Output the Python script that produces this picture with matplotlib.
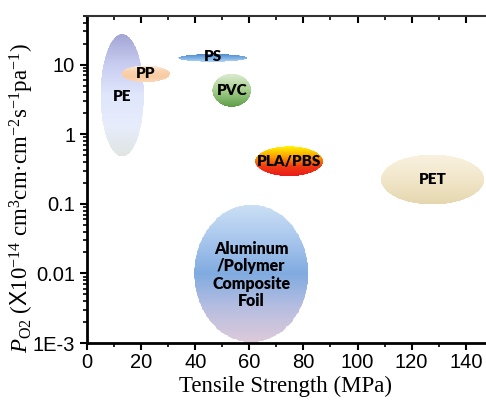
import numpy as np
import matplotlib
matplotlib.use("Agg")
import matplotlib.pyplot as plt
from matplotlib.patches import Polygon
from matplotlib.colors import LinearSegmentedColormap

plt.rcParams['mathtext.fontset'] = 'custom'
plt.rcParams['mathtext.rm'] = 'Liberation Serif'
plt.rcParams['mathtext.it'] = 'Liberation Serif:italic'
plt.rcParams['mathtext.bf'] = 'Liberation Serif:bold'
plt.rcParams['mathtext.sf'] = 'Liberation Sans'
plt.rcParams['font.family'] = ['Liberation Sans', 'DejaVu Sans']

# ---- data (tensile strength in MPa, O2 permeability) ----
materials = ["PE", "PP", "PS", "PVC", "PLA/PBS", "PET",
             "Aluminum\n/Polymer\nComposite\nFoil"]
x_center = [13.0, 21.7, 46.5, 53.5, 74.7, 127.7, 60.7]
x_width = [16.0, 17.9, 25.5, 14.3, 25.1, 38.2, 42.1]
p_low = [0.48, 5.6, 11.0, 2.48, 0.25, 0.098, 0.00103]
p_high = [27.5, 9.7, 14.2, 7.4, 0.67, 0.51, 0.097]
label_y = [3.5, 7.4, 13.0, 4.3, 0.40, 0.225, 0.0095]
label_size = [11, 11, 11, 11, 11, 11, 11.5]
grad_colors = [
    ["#a3a5d4", "#c8cdf0", "#e0e6fb", "#e6ecfb", "#dfe4e2"],
    ["#fde9da", "#f9d2ae", "#f8cba2", "#fad7b9"],
    ["#4f88cc", "#7aaee3", "#b0d2f2"],
    ["#dbead0", "#a6cf8e", "#5d9e47"],
    ["#fff200", "#ffa200", "#f03a10", "#ea1a1a"],
    ["#f8f1df", "#f1e6c9", "#e4d6ae"],
    ["#cadff5", "#a8c6ec", "#80abe0", "#b6bde0", "#dccad9"],
]

xticks = [0, 20, 40, 60, 80, 100, 120, 140]
yticks = [1e-3, 1e-2, 1e-1, 1, 10]
ytick_labels = ["1E-3", "0.01", "0.1", "1", "10"]

fig = plt.figure(figsize=(4.86, 4.01), dpi=100)
ax = fig.add_axes([0.179, 0.1446, 0.835, 0.8155])
ax.set_yscale('log')
ax.set_xlim(0, 150)
ax.set_ylim(1e-3, 50)

for i, name in enumerate(materials):
    cx, w = x_center[i], x_width[i]
    l0, l1 = np.log10(p_low[i]), np.log10(p_high[i])
    lc, lh = (l0 + l1) / 2, (l1 - l0) / 2
    t = np.linspace(0, 2 * np.pi, 300)
    px = cx + w / 2 * np.cos(t)
    py = 10 ** (lc + lh * np.sin(t))
    poly = Polygon(np.column_stack([px, py]), closed=True,
                   facecolor='none', edgecolor='none', zorder=2)
    ax.add_patch(poly)
    cmap = LinearSegmentedColormap.from_list(f"g{i}", grad_colors[i][::-1])
    n = 200
    Y = 10 ** np.linspace(l0, l1, n + 1)
    X = np.array([cx - w / 2, cx + w / 2])
    C = np.linspace(0, 1, n).reshape(n, 1)
    mesh = ax.pcolormesh(X, Y, C, cmap=cmap, vmin=0, vmax=1,
                         shading='flat', antialiased=False, zorder=2,
                         edgecolors='face', linewidth=0)
    mesh.set_clip_path(poly)
    ax.text(cx, label_y[i], name, ha='center', va='center',
            fontsize=label_size[i], fontweight='heavy',
            family='Lato', linespacing=1.1, zorder=3, color='black')

ax.set_xticks(xticks)
ax.set_xticks(np.arange(10, 150, 20), minor=True)
ax.set_yticks(yticks)
ax.set_yticklabels(ytick_labels)
ax.yaxis.set_minor_locator(matplotlib.ticker.LogLocator(base=10, subs=np.arange(2, 10), numticks=20))
ax.yaxis.set_minor_formatter(matplotlib.ticker.NullFormatter())

ax.tick_params(axis='both', which='major', labelsize=14.5, width=1.5, length=5)
ax.tick_params(axis='both', which='minor', width=1.2, length=3)
ax.tick_params(axis='x', which='both', top=True, direction='out')
ax.tick_params(axis='x', which='both', labeltop=False)
ax.tick_params(axis='y', which='both', direction='out', right=False)
ax.tick_params(axis='x', which='major', pad=2)

for s in ['left', 'bottom']:
    ax.spines[s].set_linewidth(2)
ax.spines['top'].set_linewidth(1.5)
ax.spines['top'].set_color('#333333')

# top ticks point inward
for tk in ax.xaxis.get_major_ticks() + ax.xaxis.get_minor_ticks():
    tk.tick2line.set_marker(matplotlib.lines.TICKDOWN)

ax.set_xlabel("Tensile Strength (MPa)", family='Liberation Serif', fontsize=16.5)
ax.xaxis.set_label_coords(0.488, -0.1)
ax.xaxis.label.set_va('top')
ax.set_ylabel(r"$P_{\mathrm{O2}}$" + r" ($\mathsf{X}$10$^{-14}$ cm$^3$cm·cm$^{-2}$s$^{-1}$pa$^{-1}$)",
              family='Liberation Serif', fontsize=16.5)
ax.yaxis.set_label_coords(-0.125, 0.443)

fig.savefig("out.png", dpi=100)
